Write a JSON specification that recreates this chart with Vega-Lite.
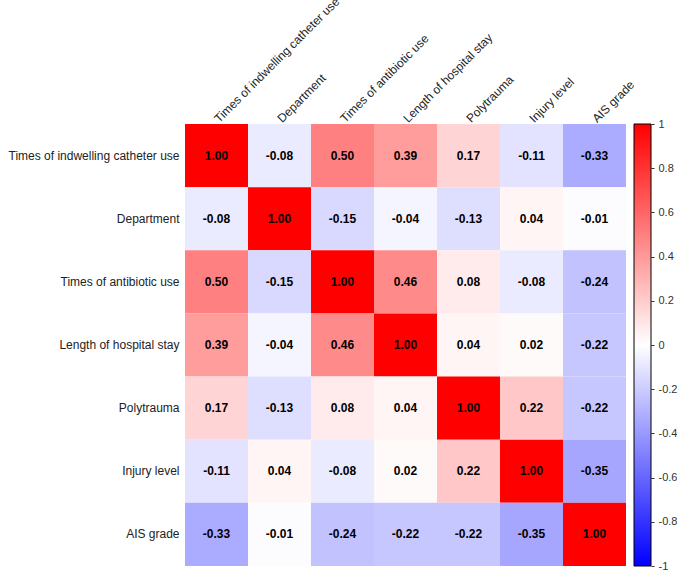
{
  "$schema": "https://vega.github.io/schema/vega-lite/v6.json",
  "autosize": {"type": "pad"},
  "padding": {"left": 8, "top": -6, "right": 0, "bottom": 3},
  "background": "white",
  "config": {
    "view": {"stroke": null},
    "font": "Liberation Sans",
    "locale": {"number": {"decimal": ".", "thousands": ",", "grouping": [3], "currency": ["$", ""], "minus": "-"}},
    "axis": {"grid": false, "labelFont": "Liberation Sans", "labelColor": "#222222"}
  },
  "datasets": {
    "corr": [
      {"r": "Times of indwelling catheter use", "c": "Times of indwelling catheter use", "v": 1.00},
      {"r": "Times of indwelling catheter use", "c": "Department", "v": -0.08},
      {"r": "Times of indwelling catheter use", "c": "Times of antibiotic use", "v": 0.50},
      {"r": "Times of indwelling catheter use", "c": "Length of hospital stay", "v": 0.39},
      {"r": "Times of indwelling catheter use", "c": "Polytrauma", "v": 0.17},
      {"r": "Times of indwelling catheter use", "c": "Injury level", "v": -0.11},
      {"r": "Times of indwelling catheter use", "c": "AIS grade", "v": -0.33},
      {"r": "Department", "c": "Times of indwelling catheter use", "v": -0.08},
      {"r": "Department", "c": "Department", "v": 1.00},
      {"r": "Department", "c": "Times of antibiotic use", "v": -0.15},
      {"r": "Department", "c": "Length of hospital stay", "v": -0.04},
      {"r": "Department", "c": "Polytrauma", "v": -0.13},
      {"r": "Department", "c": "Injury level", "v": 0.04},
      {"r": "Department", "c": "AIS grade", "v": -0.01},
      {"r": "Times of antibiotic use", "c": "Times of indwelling catheter use", "v": 0.50},
      {"r": "Times of antibiotic use", "c": "Department", "v": -0.15},
      {"r": "Times of antibiotic use", "c": "Times of antibiotic use", "v": 1.00},
      {"r": "Times of antibiotic use", "c": "Length of hospital stay", "v": 0.46},
      {"r": "Times of antibiotic use", "c": "Polytrauma", "v": 0.08},
      {"r": "Times of antibiotic use", "c": "Injury level", "v": -0.08},
      {"r": "Times of antibiotic use", "c": "AIS grade", "v": -0.24},
      {"r": "Length of hospital stay", "c": "Times of indwelling catheter use", "v": 0.39},
      {"r": "Length of hospital stay", "c": "Department", "v": -0.04},
      {"r": "Length of hospital stay", "c": "Times of antibiotic use", "v": 0.46},
      {"r": "Length of hospital stay", "c": "Length of hospital stay", "v": 1.00},
      {"r": "Length of hospital stay", "c": "Polytrauma", "v": 0.04},
      {"r": "Length of hospital stay", "c": "Injury level", "v": 0.02},
      {"r": "Length of hospital stay", "c": "AIS grade", "v": -0.22},
      {"r": "Polytrauma", "c": "Times of indwelling catheter use", "v": 0.17},
      {"r": "Polytrauma", "c": "Department", "v": -0.13},
      {"r": "Polytrauma", "c": "Times of antibiotic use", "v": 0.08},
      {"r": "Polytrauma", "c": "Length of hospital stay", "v": 0.04},
      {"r": "Polytrauma", "c": "Polytrauma", "v": 1.00},
      {"r": "Polytrauma", "c": "Injury level", "v": 0.22},
      {"r": "Polytrauma", "c": "AIS grade", "v": -0.22},
      {"r": "Injury level", "c": "Times of indwelling catheter use", "v": -0.11},
      {"r": "Injury level", "c": "Department", "v": 0.04},
      {"r": "Injury level", "c": "Times of antibiotic use", "v": -0.08},
      {"r": "Injury level", "c": "Length of hospital stay", "v": 0.02},
      {"r": "Injury level", "c": "Polytrauma", "v": 0.22},
      {"r": "Injury level", "c": "Injury level", "v": 1.00},
      {"r": "Injury level", "c": "AIS grade", "v": -0.35},
      {"r": "AIS grade", "c": "Times of indwelling catheter use", "v": -0.33},
      {"r": "AIS grade", "c": "Department", "v": -0.01},
      {"r": "AIS grade", "c": "Times of antibiotic use", "v": -0.24},
      {"r": "AIS grade", "c": "Length of hospital stay", "v": -0.22},
      {"r": "AIS grade", "c": "Polytrauma", "v": -0.22},
      {"r": "AIS grade", "c": "Injury level", "v": -0.35},
      {"r": "AIS grade", "c": "AIS grade", "v": 1.00}
    ],
    "bar": [{"lo": -1, "hi": 1}]
  },
  "bounds": "flush",
  "spacing": 8,
  "hconcat": [
    {
      "width": 441,
      "height": 442,
      "data": {"name": "corr"},
      "encoding": {
        "x": {
          "field": "c", "type": "nominal", "sort": null,
          "scale": {"paddingInner": 0, "paddingOuter": 0},
          "axis": {
            "orient": "top", "title": null, "ticks": false, "domain": false,
            "labelAngle": -45, "labelAlign": "left", "labelBaseline": "middle",
            "labelPadding": 4, "labelFontSize": 12, "labelLimit": 0
          }
        },
        "y": {
          "field": "r", "type": "nominal", "sort": null,
          "scale": {"paddingInner": 0, "paddingOuter": 0},
          "axis": {
            "title": null, "ticks": false, "domain": false,
            "labelPadding": 6, "labelFontSize": 12, "labelLimit": 0
          }
        }
      },
      "layer": [
        {
          "mark": {"type": "rect"},
          "encoding": {
            "color": {
              "field": "v", "type": "quantitative",
              "scale": {"domain": [-1, 0, 1], "range": ["#0000ff", "#ffffff", "#ff0000"], "interpolate": "rgb"},
              "legend": null
            }
          }
        },
        {
          "mark": {"type": "text", "fontSize": 12, "fontWeight": "bold", "color": "#000000"},
          "encoding": {
            "text": {"field": "v", "type": "quantitative", "format": ".2f"}
          }
        }
      ]
    },
    {
      "width": 17,
      "height": 442,
      "data": {"name": "bar"},
      "mark": {
        "type": "rect",
        "stroke": "#000000",
        "strokeWidth": 1,
        "color": {
          "gradient": "linear", "x1": 0, "y1": 1, "x2": 0, "y2": 0,
          "stops": [
            {"offset": 0, "color": "#0000ff"},
            {"offset": 0.5, "color": "#ffffff"},
            {"offset": 1, "color": "#ff0000"}
          ]
        }
      },
      "encoding": {
        "y": {
          "field": "lo", "type": "quantitative",
          "scale": {"domain": [-1, 1], "nice": false, "zero": false},
          "axis": {
            "orient": "right", "title": null, "domain": false,
            "values": [-1, -0.8, -0.6, -0.4, -0.2, 0, 0.2, 0.4, 0.6, 0.8, 1],
            "format": "~g",
            "tickSize": 3, "tickColor": "#333333", "labelFontSize": 11,
            "labelPadding": 4, "labelColor": "#333333"
          }
        },
        "y2": {"field": "hi"}
      }
    }
  ]
}
